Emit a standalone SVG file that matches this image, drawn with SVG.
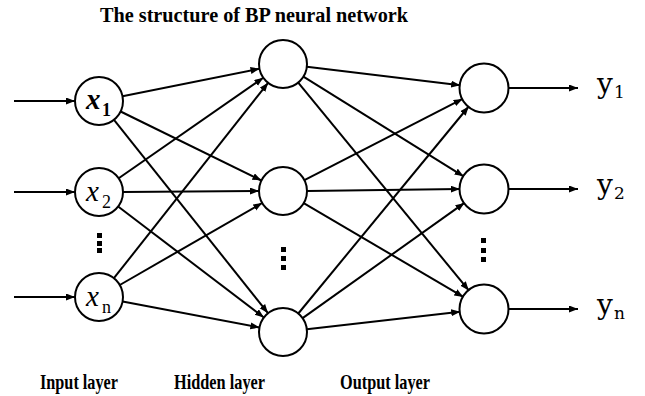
<svg xmlns="http://www.w3.org/2000/svg" width="645" height="396" viewBox="0 0 645 396">
<defs>
<marker id="ah" markerUnits="userSpaceOnUse" markerWidth="10" markerHeight="8" refX="9" refY="3.5" orient="auto">
<path d="M0,0 L9,3.5 L0,7 z" fill="#000"/>
</marker>
<style>
.node{fill:#fff;stroke:#000;stroke-width:2}
.edge{stroke:#000;stroke-width:2;fill:none;marker-end:url(#ah)}
.lbl{font-family:"Liberation Serif",serif;font-weight:bold;font-size:20px;fill:#000}
.lay{font-family:"Liberation Serif",serif;font-weight:bold;font-size:22px;fill:#000}
.xv{font-family:"Liberation Serif",serif;font-style:italic;font-size:29px;fill:#000}
.sub{font-family:"Liberation Serif",serif;font-size:18px;fill:#000}
.yv{font-family:"DejaVu Serif",serif;font-size:28px;fill:#000}
.ysub{font-family:"DejaVu Serif",serif;font-size:17px;fill:#000}
.dot{fill:#000}
</style>
</defs>
<rect width="645" height="396" fill="#fff"/>
<text class="lbl" x="100" y="22" textLength="308" lengthAdjust="spacingAndGlyphs">The structure of BP neural network</text>
<g id="edges">
<line class="edge" x1="14" y1="101" x2="75" y2="101"/>
<line class="edge" x1="14" y1="192" x2="75" y2="192"/>
<line class="edge" x1="14" y1="297" x2="75" y2="297"/>
<line class="edge" x1="122.5" y1="96.3" x2="259.5" y2="68.7"/>
<line class="edge" x1="120.6" y1="111.5" x2="261.4" y2="180.5"/>
<line class="edge" x1="114" y1="119.8" x2="268" y2="313.2"/>
<line class="edge" x1="118.7" y1="178.3" x2="263.3" y2="77.7"/>
<line class="edge" x1="123" y1="192" x2="259" y2="191"/>
<line class="edge" x1="118.1" y1="206.5" x2="263.9" y2="317.5"/>
<line class="edge" x1="113.9" y1="278.2" x2="268.1" y2="82.8"/>
<line class="edge" x1="119.8" y1="285" x2="262.2" y2="203"/>
<line class="edge" x1="122.6" y1="301.5" x2="259.4" y2="327.5"/>
<line class="edge" x1="306.8" y1="66.8" x2="460.2" y2="85.2"/>
<line class="edge" x1="303.4" y1="76.7" x2="463.6" y2="176.3"/>
<line class="edge" x1="298.2" y1="82.6" x2="468.8" y2="290.4"/>
<line class="edge" x1="304.4" y1="180.1" x2="462.6" y2="98.9"/>
<line class="edge" x1="307" y1="191" x2="460" y2="189"/>
<line class="edge" x1="303.7" y1="203.1" x2="463.3" y2="296.9"/>
<line class="edge" x1="298.3" y1="313.5" x2="468.7" y2="106.5"/>
<line class="edge" x1="302.6" y1="318.1" x2="464.4" y2="202.9"/>
<line class="edge" x1="306.8" y1="329.3" x2="460.2" y2="311.7"/>
<line class="edge" x1="508" y1="88" x2="578" y2="88"/>
<line class="edge" x1="508" y1="189" x2="578" y2="189"/>
<line class="edge" x1="508" y1="309" x2="578" y2="309"/>
</g>
<g id="in1"><circle class="node" cx="99" cy="101" r="24"/><text class="xv" x="86" y="109" font-weight="bold">x</text><text class="sub" x="102" y="116" font-weight="bold">1</text></g>
<g id="in2"><circle class="node" cx="99" cy="192" r="24"/><text class="xv" x="86" y="201">x</text><text class="sub" x="102" y="208">2</text></g>
<g id="inn"><circle class="node" cx="99" cy="297" r="24"/><text class="xv" x="86" y="306">x</text><text class="sub" x="102" y="313">n</text></g>
<g id="h1"><circle class="node" cx="283" cy="64" r="24"/></g>
<g id="h2"><circle class="node" cx="283" cy="191" r="24"/></g>
<g id="hn"><circle class="node" cx="283" cy="332" r="24"/></g>
<g id="o1"><circle class="node" cx="484" cy="88" r="24.5"/></g>
<g id="o2"><circle class="node" cx="484" cy="189" r="24.5"/></g>
<g id="on"><circle class="node" cx="484" cy="309" r="24.5"/></g>
<g id="dots">
<rect class="dot" x="97" y="233" width="5" height="5"/><rect class="dot" x="97" y="241" width="5" height="5"/><rect class="dot" x="97" y="248" width="5" height="5"/>
<rect class="dot" x="281" y="247" width="5" height="5"/><rect class="dot" x="281" y="256" width="5" height="5"/><rect class="dot" x="281" y="265" width="5" height="5"/>
<rect class="dot" x="481" y="238" width="5" height="5"/><rect class="dot" x="481" y="248" width="5" height="5"/><rect class="dot" x="481" y="257" width="5" height="5"/>
</g>
<g id="outputs">
<text class="yv" x="597" y="93">y</text><text class="ysub" x="614" y="98">1</text>
<text class="yv" x="597" y="194">y</text><text class="ysub" x="614" y="199">2</text>
<text class="yv" x="597" y="314">y</text><text class="ysub" x="614" y="319">n</text>
</g>
<g id="layers">
<text class="lay" x="40" y="389" textLength="78" lengthAdjust="spacingAndGlyphs">Input layer</text>
<text class="lay" x="174" y="389" textLength="91" lengthAdjust="spacingAndGlyphs">Hidden layer</text>
<text class="lay" x="340" y="389" textLength="90" lengthAdjust="spacingAndGlyphs">Output layer</text>
</g>
</svg>
